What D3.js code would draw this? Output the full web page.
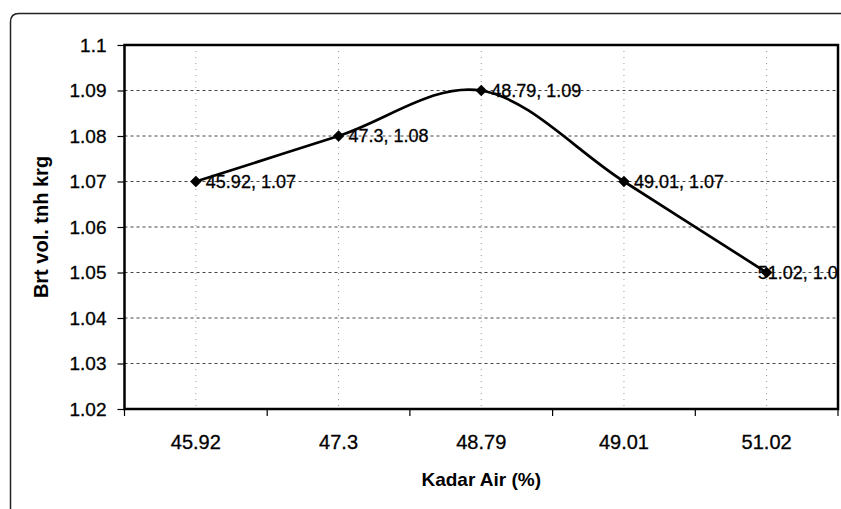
<!DOCTYPE html>
<html>
<head>
<meta charset="utf-8">
<script src="https://cdn.jsdelivr.net/npm/d3@7"></script>
<style>
  html, body { margin: 0; padding: 0; background: #fff; }
  svg { display: block; font-family: "Liberation Sans", Arial, sans-serif; }
</style>
</head>
<body>
<svg id="chart" width="841" height="509"></svg>
<script>
const categories = ["45.92", "47.3", "48.79", "49.01", "51.02"];
const values = [1.07, 1.08, 1.09, 1.07, 1.05];
const yTicks = [1.02, 1.03, 1.04, 1.05, 1.06, 1.07, 1.08, 1.09, 1.1];
const xTitle = "Kadar Air (%)";
const yTitle = "Brt vol. tnh krg";

const svg = d3.select("#chart");
const W = 841, H = 509;
const plot = { left: 124.5, right: 838, top: 45, bottom: 409 };

// outer chart border (rounded top-left)
svg.append("path")
  .attr("d", `M10.5,${H} L10.5,22 Q10.5,13.5 19,13.5 L${W},13.5`)
  .attr("fill", "none").attr("stroke", "#222").attr("stroke-width", 1.5);

const x = d3.scaleBand().domain(categories).range([plot.left, plot.right]).padding(0);
const y = d3.scaleLinear().domain([1.02, 1.1]).range([plot.bottom, plot.top]);

// clip for plot area
svg.append("defs").append("clipPath").attr("id", "clip")
  .append("rect").attr("x", plot.left).attr("y", plot.top - 20)
  .attr("width", plot.right - plot.left + 1).attr("height", plot.bottom - plot.top + 40);

// horizontal gridlines
svg.append("g").selectAll("line").data(yTicks.slice(1, -1)).join("line")
  .attr("x1", plot.left).attr("x2", plot.right)
  .attr("y1", d => y(d)).attr("y2", d => y(d))
  .attr("stroke", "#444").attr("stroke-width", 1).attr("stroke-dasharray", "3,3");

// faint vertical gridlines at category centers
svg.append("g").selectAll("line").data(categories).join("line")
  .attr("x1", d => x(d) + x.bandwidth() / 2).attr("x2", d => x(d) + x.bandwidth() / 2)
  .attr("y1", plot.top).attr("y2", plot.bottom)
  .attr("stroke", "#999").attr("stroke-width", 1).attr("stroke-dasharray", "1,5");

// Y axis
const yAxis = d3.axisLeft(y).tickValues(yTicks).tickSize(7).tickPadding(11)
  .tickFormat(d => d3.format("")(+d.toFixed(2)));
const gy = svg.append("g").attr("transform", `translate(${plot.left},0)`).call(yAxis);
gy.select(".domain").remove();
gy.selectAll(".tick line").attr("stroke", "#000").attr("stroke-width", 1.2);
gy.selectAll("text").attr("font-size", 19).attr("fill", "#000")
  .attr("stroke", "#000").attr("stroke-width", 0.3)
  .attr("font-family", "'Liberation Sans', Arial, sans-serif");

// X axis (ticks between categories)
const gx = svg.append("g").attr("transform", `translate(0,${plot.bottom})`);
const boundaries = categories.map(c => x(c)).concat([x(categories[categories.length - 1]) + x.bandwidth()]);
gx.selectAll("line").data(boundaries).join("line")
  .attr("x1", d => d).attr("x2", d => d).attr("y1", 0).attr("y2", 7)
  .attr("stroke", "#000").attr("stroke-width", 1.2);
gx.selectAll("text").data(categories).join("text")
  .attr("x", d => x(d) + x.bandwidth() / 2).attr("y", 40)
  .attr("text-anchor", "middle").attr("font-size", 20).attr("fill", "#000")
  .attr("stroke", "#000").attr("stroke-width", 0.3)
  .text(d => d);

// plot frame
svg.append("rect")
  .attr("x", plot.left).attr("y", plot.top)
  .attr("width", plot.right - plot.left).attr("height", plot.bottom - plot.top)
  .attr("fill", "none").attr("stroke", "#000").attr("stroke-width", 2.5);

// line
const pts = categories.map((c, i) => [x(c) + x.bandwidth() / 2, y(values[i])]);
svg.append("path")
  .attr("d", d3.line().curve(d3.curveCatmullRom.alpha(0))(pts))
  .attr("fill", "none").attr("stroke", "#000").attr("stroke-width", 2.7);

// markers
svg.append("g").selectAll("path").data(pts).join("path")
  .attr("transform", d => `translate(${d[0]},${d[1]})`)
  .attr("d", d3.symbol().type(d3.symbolDiamond2).size(85))
  .attr("fill", "#000");

// data labels
svg.append("g").attr("clip-path", "url(#clip)")
  .selectAll("text").data(categories).join("text")
  .attr("x", (d, i) => pts[i][0] + (i === categories.length - 1 ? -9 : 10))
  .attr("y", (d, i) => pts[i][1])
  .attr("dy", "0.35em")
  .attr("font-size", 18).attr("fill", "#000")
  .attr("stroke", "#000").attr("stroke-width", 0.3)
  .text((d, i) => `${d}, ${values[i]}`);

// axis titles
svg.append("text")
  .attr("x", (plot.left + plot.right) / 2).attr("y", 486)
  .attr("text-anchor", "middle").attr("font-size", 19).attr("font-weight", "bold")
  .text(xTitle);
svg.append("text")
  .attr("transform", `translate(48,${(plot.top + plot.bottom) / 2}) rotate(-90)`)
  .attr("text-anchor", "middle").attr("font-size", 20).attr("font-weight", "bold")
  .text(yTitle);
</script>
</body>
</html>
